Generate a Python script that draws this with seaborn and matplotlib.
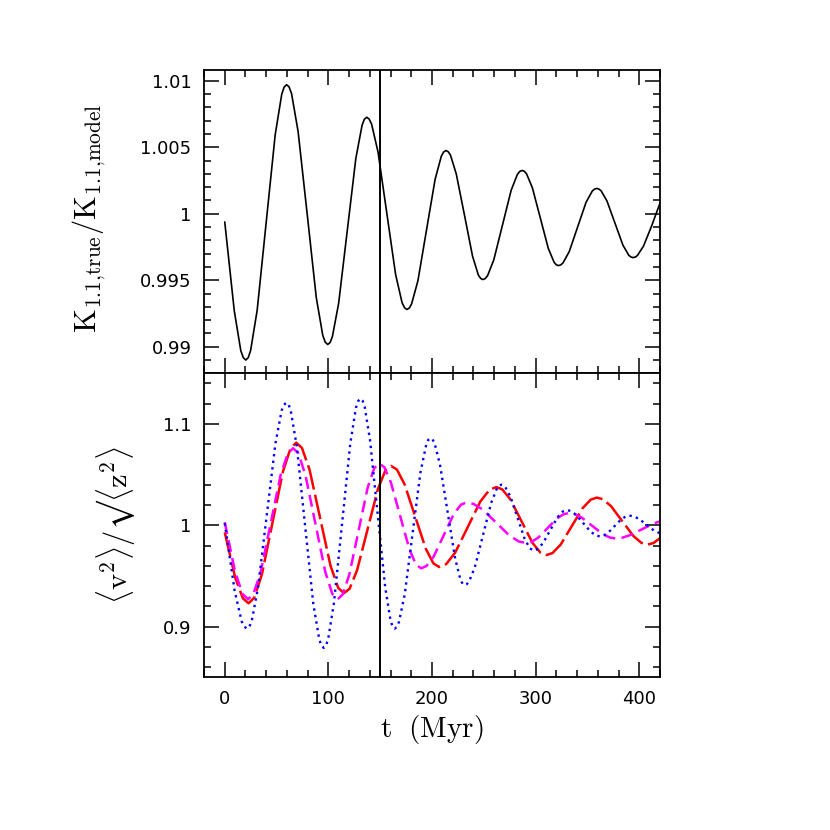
import matplotlib
matplotlib.use("Agg")
import matplotlib.pyplot as plt
from matplotlib.ticker import MultipleLocator, FuncFormatter
import seaborn as sns

# top panel: K ratio vs time (Myr)
t_k = [0, 9.2, 15.5, 17.9, 20.3, 22.7, 25.0, 31.3, 40.0, 48.7, 55.0, 57.3, 59.7, 62.1, 64.5, 70.8,
       79.6, 88.3, 94.6, 97.0, 99.4, 101.7, 103.9, 109.9, 118.2, 126.5, 132.5, 134.7, 137, 139.3,
       141.7, 147.9, 156.4, 164.9, 171.1, 173.5, 175.8, 178.1, 180.3, 186.4, 194.7, 203.0,
       209.0, 211.2, 213.5, 215.6, 217.8, 223.4, 231.3, 239.1, 244.7, 246.9, 249, 251.3,
       253.6, 259.6, 268.0, 276.4, 282.4, 284.7, 287, 289.1, 291.2, 296.8, 304.5, 312.2,
       317.8, 319.9, 322, 324.2, 326.4, 332.4, 340.5, 348.6, 354.6, 356.8, 359, 361.1,
       363.2, 368.8, 376.5, 384.2, 389.8, 391.9, 394, 396.2, 398.3, 404.1, 412, 420, 424]
k_ratio = [0.99938, 0.9927, 0.9897, 0.98918, 0.989, 0.98918, 0.98973, 0.99275, 0.99935, 1.00595,
           1.00898, 1.00952, 1.0097, 1.00953, 1.00902, 1.00617, 0.99994, 0.99371, 0.99085, 0.99034,
           0.99017, 0.99032, 0.99077, 0.99326, 0.99871, 1.00416, 1.00665, 1.0071, 1.00725, 1.00712,
           1.00674, 1.00464, 1.00003, 0.99542, 0.99331, 0.99293, 0.9928, 0.99291, 0.99322, 0.99496,
           0.99878, 1.00259, 1.00433, 1.00464, 1.00475, 1.00466, 1.00441, 1.00299, 0.9999, 0.99681,
           0.99539, 0.99514, 0.99505, 0.99512, 0.99534, 0.99653, 0.99915, 1.00177, 1.00296, 1.00318,
           1.00325, 1.00319, 1.003, 1.00196, 0.99968, 0.99739, 0.99635, 0.99616, 0.9961, 0.99615,
           0.9963, 0.99715, 0.999, 1.00085, 1.0017, 1.00185, 1.0019, 1.00185, 1.00172, 1.00096,
           0.9993, 0.99764, 0.99688, 0.99675, 0.9967, 0.99674, 0.99687, 0.99757, 0.9991, 1.0008, 1.0014]

# bottom panel: red long dash
t_red = [0, 10.1, 17.5, 23, 28.5, 35.9, 46, 56.1, 63.5, 69, 74.5, 81.9, 92, 102.1, 109.5, 115,
         120.5, 127.7, 137.75, 147.8, 155.0, 160.5, 166.1, 173.5, 183.75, 194.0, 201.4, 207,
         213.6, 222.4, 234.5, 246.6, 255.4, 262, 267.8, 275.6, 286.25, 296.9, 304.7, 310.5,
         316.3, 324.1, 334.75, 345.4, 353.2, 359, 364.9, 372.7, 383.5, 394.3, 402.1, 408,
         413.6, 421.2, 426]
v_red = [0.993, 0.9483, 0.9279, 0.923, 0.9285, 0.9517, 1.00225, 1.0528, 1.076, 1.0815, 1.0763,
         1.0546, 1.00725, 0.9599, 0.9382, 0.933, 0.9374, 0.9557, 0.99575, 1.0358, 1.0541, 1.0585,
         1.055, 1.0405, 1.00865, 0.9768, 0.9623, 0.9588, 0.9616, 0.9731, 0.99825, 1.0234, 1.0349,
         1.0377, 1.0354, 1.0256, 1.00415, 0.9827, 0.9729, 0.9706, 0.9726, 0.9809, 0.99895, 1.017,
         1.0253, 1.0273, 1.0257, 1.0189, 1.00415, 0.9894, 0.9826, 0.981, 0.9824, 0.9882, 0.9915]

# magenta short dash
t_mag = [0, 9.9, 17.1, 22.5, 27.7, 34.7, 44.25, 53.8, 60.8, 66, 71.2, 78.0, 87.5, 97.0, 103.8, 109,
         113.8, 120.2, 129, 137.8, 144.2, 149, 153.9, 160.3, 169.25, 178.2, 184.6, 189.5,
         194.7, 201.7, 211.25, 220.8, 227.8, 233, 240.0, 249.2, 262, 274.8, 284.0, 291,
         295.9, 302.5, 311.5, 320.5, 327.1, 332, 337.4, 344.6, 354.5, 364.4, 371.6, 377,
         383.1, 391.3, 402.5, 413.7, 421.9, 428]
v_mag = [1.003, 0.9545, 0.9323, 0.927, 0.9322, 0.954, 1.0015, 1.049, 1.0708, 1.076, 1.0708, 1.049,
         1.0015, 0.954, 0.9322, 0.927, 0.9317, 0.9513, 0.994, 1.0367, 1.0563, 1.061, 1.0574, 1.0423,
         1.00925, 0.9762, 0.9611, 0.9575, 0.9598, 0.9693, 0.99, 1.0107, 1.0202, 1.0225, 1.0211,
         1.0153, 1.0025, 0.9897, 0.9839, 0.9825, 0.9835, 0.9878, 0.99725, 1.0067, 1.011, 1.012,
         1.0111, 1.0075, 0.9995, 0.9915, 0.9879, 0.987, 0.9876, 0.9903, 0.996, 1.0017, 1.0044, 1.005]

# blue dotted
t_blue = [0, 9.5, 16.3, 18.9, 21.5, 23.8, 26.1, 32.1, 40.5, 48.9, 54.9, 57.2, 59.5, 61.7, 63.8,
          69.6, 77.5, 85.4, 91.2, 93.3, 95.5, 97.6, 99.8, 105.4, 113.25, 121.1, 126.7, 128.9,
          131, 133.0, 135.0, 140.2, 147.5, 154.8, 160.0, 162.0, 164, 166.1, 168.1, 173.7,
          181.25, 188.8, 194.4, 196.4, 198.5, 200.5, 202.5, 207.7, 215, 222.3, 227.5, 229.5,
          231.5, 233.6, 235.8, 241.4, 249.25, 257.1, 262.7, 264.9, 267, 268.9, 270.7, 275.7,
          282.5, 289.3, 294.3, 298, 301.8, 307.0, 314, 321.0, 326.2, 330, 333.8, 339.0, 346,
          353.0, 358.2, 362, 365.4, 370.0, 376.25, 382.5, 387.1, 390.5, 394.5, 399.9, 407.25,
          414.6, 420, 424]
v_blue = [1.002, 0.9356, 0.9053, 0.8999, 0.898, 0.9, 0.9058, 0.9384, 1.0095, 1.0806, 1.1132, 1.119,
          1.121, 1.1189, 1.1125, 1.0772, 1.0, 0.9228, 0.8875, 0.8811, 0.879, 0.8812, 0.8876, 0.9235,
          1.002, 1.0805, 1.1164, 1.1228, 1.125, 1.123, 1.1171, 1.0839, 1.0115, 0.9391, 0.9059, 0.9,
          0.898, 0.8997, 0.9046, 0.932, 0.992, 1.052, 1.0794, 1.0843, 1.086, 1.0847, 1.0809, 1.0598,
          1.0135, 0.9672, 0.9461, 0.9423, 0.941, 0.9419, 0.9445, 0.9589, 0.9905, 1.0221, 1.0365,
          1.0391, 1.040, 1.0394, 1.0377, 1.0282, 1.0075, 0.9868, 0.9773, 0.975, 0.9764, 0.9822,
          0.995, 1.0078, 1.0136, 1.015, 1.0141, 1.0103, 1.002, 0.9937, 0.9899, 0.989, 0.9897,
          0.9927, 0.99925, 1.0058, 1.0088, 1.0095, 1.0089, 1.0062, 1.00025, 0.9944, 0.9922, 0.991]

t_mark = 150

sns.set_style("ticks")
plt.rcParams["font.family"] = ["DejaVu Sans"]
plt.rcParams["mathtext.fontset"] = "cm"

fig = plt.figure(figsize=(8.3, 8.3), dpi=100)
ax1 = fig.add_axes([0.2458, 0.5502, 0.5494, 0.3654])
ax2 = fig.add_axes([0.2458, 0.1840, 0.5494, 0.3663])

sns.lineplot(x=t_k, y=k_ratio, ax=ax1, color="black", lw=1.2, estimator=None, sort=False)

sns.lineplot(x=t_red, y=v_red, ax=ax2, color="#ff0000", lw=1.8, estimator=None, sort=False,
             linestyle=(0, (10, 2.1)))
sns.lineplot(x=t_mag, y=v_mag, ax=ax2, color="#ff00ff", lw=1.8, estimator=None, sort=False,
             linestyle=(0, (4.8, 2.5)))
sns.lineplot(x=t_blue, y=v_blue, ax=ax2, color="#0000ff", lw=1.7, estimator=None, sort=False,
             linestyle=(0, (1, 1.8)))

fmt = FuncFormatter(lambda v, _: f"{v:g}")
for ax in (ax1, ax2):
    ax.axvline(t_mark, color="black", lw=1.4)
    ax.set_xlim(-20, 420)
    ax.xaxis.set_major_locator(MultipleLocator(100))
    ax.xaxis.set_minor_locator(MultipleLocator(20))
    ax.tick_params(which="both", direction="in", top=True, right=True, width=1.1,
                   color="black", labelcolor="black")
    ax.tick_params(which="major", length=10.5, labelsize=13, pad=9)
    ax.tick_params(which="minor", length=5)
    ax.yaxis.set_major_formatter(fmt)
    ax.xaxis.set_major_formatter(fmt)
    for s in ax.spines.values():
        s.set_linewidth(1.3)
        s.set_color("black")

ax1.set_ylim(0.988, 1.0108)
ax1.yaxis.set_major_locator(MultipleLocator(0.005))
ax1.yaxis.set_minor_locator(MultipleLocator(0.001))
ax1.tick_params(labelbottom=False)
ax1.set_xlabel("")
ax1.set_ylabel(r"$\mathrm{K_{1.1{,}true}/K_{1.1{,}model}}$", fontsize=22, color="black")
ax1.yaxis.set_label_coords(-0.21, 0.51)

ax2.set_ylim(0.85, 1.15)
ax2.yaxis.set_major_locator(MultipleLocator(0.1))
ax2.yaxis.set_minor_locator(MultipleLocator(0.02))
ax2.set_ylabel("$\\langle \\mathrm{v}^2\\rangle/\u221a\\langle \\mathrm{z}^2\\rangle$",
               fontsize=22, color="black")
ax2.yaxis.set_label_coords(-0.147, 0.5)
ax2.set_xlabel(r"$\mathrm{t\ \ (Myr)}$", fontsize=21, labelpad=4, color="black")

fig.savefig("out.png", dpi=100)
